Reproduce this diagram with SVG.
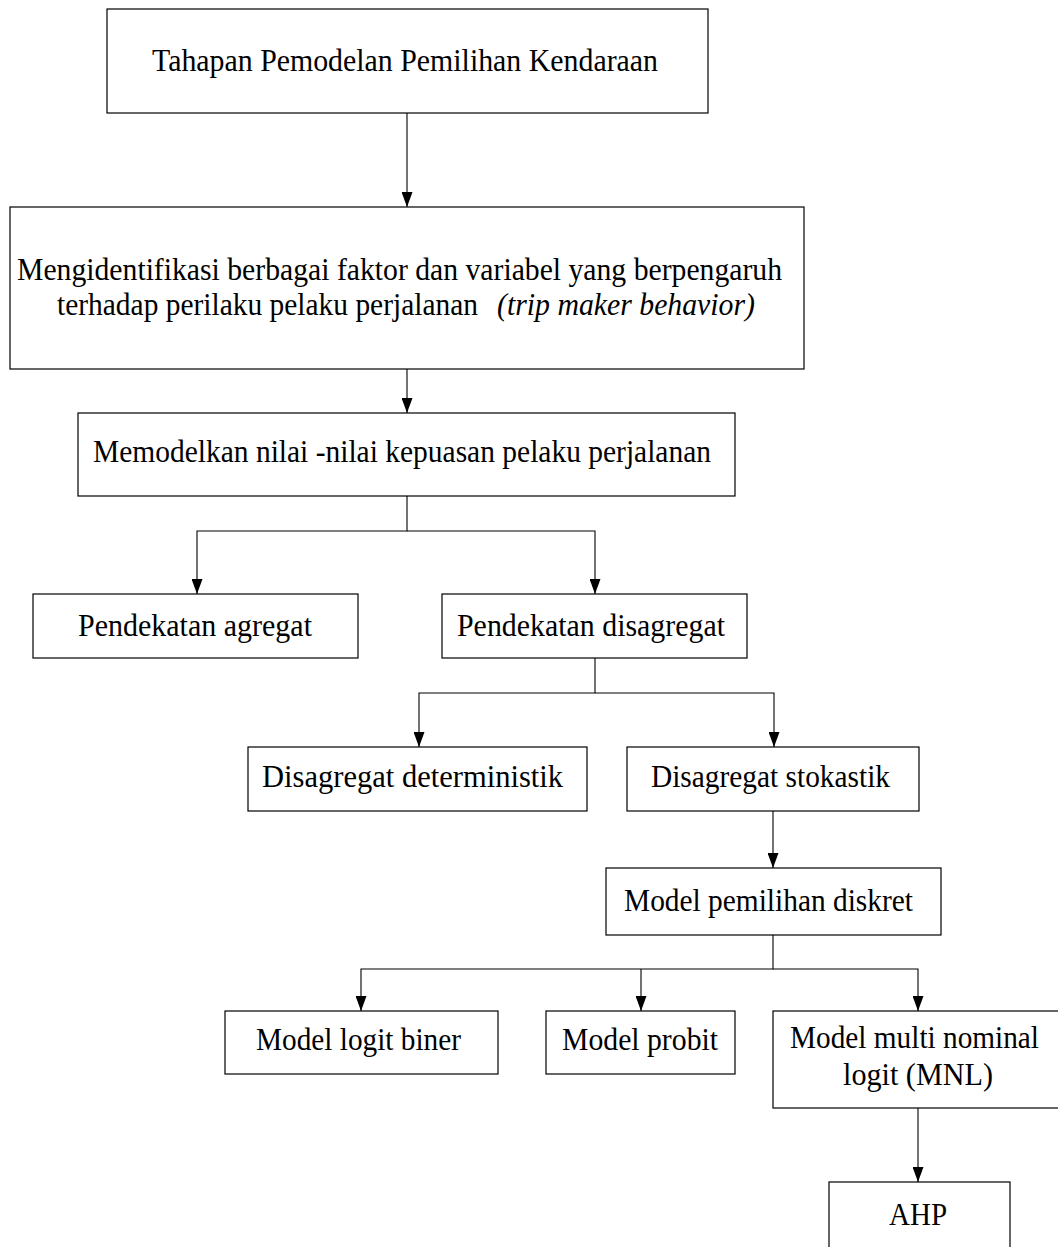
<svg xmlns="http://www.w3.org/2000/svg" width="1058" height="1247" viewBox="0 0 1058 1247">
<style>
.box{fill:#fff;stroke:#000;stroke-width:1.2}
.t{font-family:"Liberation Serif","Times New Roman",serif;font-size:32px;fill:#000}
.i{font-style:italic}
.c{fill:none;stroke:#000;stroke-width:1.1}
</style>
<defs>
<marker id="ah" viewBox="0 0 15 11" refX="15" refY="5.5" markerWidth="15" markerHeight="11" markerUnits="userSpaceOnUse" orient="auto">
<path d="M0,0 L15,5.5 L0,11 z" fill="#000"/>
</marker>
</defs>
<rect x="0" y="0" width="1058" height="1247" fill="#fff"/>
<g id="connectors">
<path class="c" d="M407,113 V207" marker-end="url(#ah)"/>
<path class="c" d="M407,369 V413" marker-end="url(#ah)"/>
<path class="c" d="M407,496 V531 H197 V594" marker-end="url(#ah)"/>
<path class="c" d="M407,531 H595 V594" marker-end="url(#ah)"/>
<path class="c" d="M595,658 V693 H419 V747" marker-end="url(#ah)"/>
<path class="c" d="M595,693 H774 V747" marker-end="url(#ah)"/>
<path class="c" d="M773,811 V868" marker-end="url(#ah)"/>
<path class="c" d="M773,935 V969 H361 V1011" marker-end="url(#ah)"/>
<path class="c" d="M641,969 V1011" marker-end="url(#ah)"/>
<path class="c" d="M773,969 H918 V1011" marker-end="url(#ah)"/>
<path class="c" d="M918,1108 V1182" marker-end="url(#ah)"/>
</g>
<g id="n1"><rect class="box" x="107" y="9" width="601" height="104"/>
<text class="t" x="152" y="71" textLength="506" lengthAdjust="spacingAndGlyphs">Tahapan Pemodelan Pemilihan Kendaraan</text></g>
<g id="n2"><rect class="box" x="10" y="207" width="794" height="162"/>
<text class="t" x="17" y="280" textLength="765" lengthAdjust="spacingAndGlyphs">Mengidentifikasi berbagai faktor dan variabel yang berpengaruh</text>
<text class="t" x="57" y="315" textLength="421" lengthAdjust="spacingAndGlyphs">terhadap perilaku pelaku perjalanan</text>
<text class="t i" x="497" y="315" textLength="258" lengthAdjust="spacingAndGlyphs">(trip maker behavior)</text></g>
<g id="n3"><rect class="box" x="78" y="413" width="657" height="83"/>
<text class="t" x="93" y="462" textLength="618" lengthAdjust="spacingAndGlyphs">Memodelkan nilai -nilai kepuasan pelaku perjalanan</text></g>
<g id="n4"><rect class="box" x="33" y="594" width="325" height="64"/>
<text class="t" x="78" y="636" textLength="234" lengthAdjust="spacingAndGlyphs">Pendekatan agregat</text></g>
<g id="n5"><rect class="box" x="442" y="594" width="305" height="64"/>
<text class="t" x="457" y="636" textLength="268" lengthAdjust="spacingAndGlyphs">Pendekatan disagregat</text></g>
<g id="n6"><rect class="box" x="248" y="747" width="339" height="64"/>
<text class="t" x="262" y="787" textLength="301" lengthAdjust="spacingAndGlyphs">Disagregat deterministik</text></g>
<g id="n7"><rect class="box" x="627" y="747" width="292" height="64"/>
<text class="t" x="651" y="787" textLength="239" lengthAdjust="spacingAndGlyphs">Disagregat stokastik</text></g>
<g id="n8"><rect class="box" x="606" y="868" width="335" height="67"/>
<text class="t" x="624" y="911" textLength="289" lengthAdjust="spacingAndGlyphs">Model pemilihan diskret</text></g>
<g id="n9"><rect class="box" x="225" y="1011" width="273" height="63"/>
<text class="t" x="256" y="1050" textLength="205" lengthAdjust="spacingAndGlyphs">Model logit biner</text></g>
<g id="n10"><rect class="box" x="546" y="1011" width="189" height="63"/>
<text class="t" x="562" y="1050" textLength="156" lengthAdjust="spacingAndGlyphs">Model probit</text></g>
<g id="n11"><rect class="box" x="773" y="1011" width="300" height="97"/>
<text class="t" x="790" y="1048" textLength="249" lengthAdjust="spacingAndGlyphs">Model multi nominal</text>
<text class="t" x="843" y="1085" textLength="150" lengthAdjust="spacingAndGlyphs">logit (MNL)</text></g>
<g id="n12"><rect class="box" x="829" y="1182" width="181" height="80"/>
<text class="t" x="889" y="1225" textLength="58" lengthAdjust="spacingAndGlyphs">AHP</text></g>
</svg>
